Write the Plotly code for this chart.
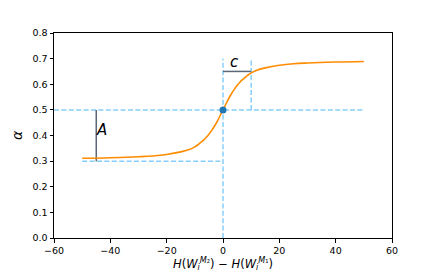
import plotly.graph_objects as go

# Curve values
x_vals = [-50, -40, -30, -25, -20, -15, -12, -10, -9, -8, -7, -6, -5, -4, -3, -2, -1, 0,
          1, 2, 3, 4, 5, 6, 7, 8, 9, 10, 12, 15, 20, 25, 30, 40, 50]
y_vals = [0.311, 0.313, 0.317, 0.320, 0.326, 0.336, 0.345, 0.356, 0.363, 0.372, 0.381, 0.392, 0.405, 0.420, 0.437, 0.456, 0.478, 0.5,
          0.522, 0.544, 0.563, 0.580, 0.595, 0.608, 0.619, 0.628, 0.637, 0.644, 0.655, 0.664, 0.674, 0.680, 0.683, 0.687, 0.689]

# Guide parameters
center_x, center_y = 0, 0.5
amp = 0.2
c_val = 10
a_x = -45
c_y = 0.65
x_min, x_max = -50, 50

x_ticks = [-60, -40, -20, 0, 20, 40, 60]
y_ticks = [0.0, 0.1, 0.2, 0.3, 0.4, 0.5, 0.6, 0.7, 0.8]
y_tick_text = ["0.0", "0.1", "0.2", "0.3", "0.4", "0.5", "0.6", "0.7", "0.8"]

dash_color = "#87CEFA"
dash_style = "5px,2.4px"
gray = "#5b6878"

fig = go.Figure()

def dline(xs, ys, color=dash_color, dash=dash_style, width=1.5):
    fig.add_trace(go.Scatter(x=xs, y=ys, mode="lines",
                             line=dict(color=color, width=width, dash=dash),
                             showlegend=False, hoverinfo="skip"))

dline([-60, x_max], [center_y, center_y])
dline([center_x, center_x], [0, center_y + amp])
dline([x_min, center_x], [center_y - amp, center_y - amp])
dline([center_x + c_val, center_x + c_val], [center_y, center_y + amp])

dline([a_x, a_x], [center_y - amp, center_y], color=gray, dash="solid", width=1.5)
dline([center_x, center_x + c_val], [c_y, c_y], color=gray, dash="solid", width=1.5)

fig.add_trace(go.Scatter(x=x_vals, y=y_vals, mode="lines",
                         line=dict(color="#ff8c00", width=1.6, shape="spline", smoothing=1.0),
                         showlegend=False))
fig.add_trace(go.Scatter(x=[center_x], y=[center_y], mode="markers",
                         marker=dict(color="#1f77b4", size=7),
                         showlegend=False))

fig.add_annotation(x=a_x + 1.9, y=0.42, text="<i>A</i>", showarrow=False,
                   font=dict(family="DejaVu Sans", size=15, color="black"))
fig.add_annotation(x=center_x + 4, y=0.688, text="<i>c</i>", showarrow=False,
                   font=dict(family="DejaVu Sans", size=15, color="black"))

axis_common = dict(showline=True, linecolor="black", linewidth=1, mirror=True,
                   ticks="outside", ticklen=3.5, tickwidth=0.8, tickcolor="black",
                   showgrid=False, zeroline=False, automargin=False,
                   tickfont=dict(family="DejaVu Sans", size=9.5, color="black"))

fig.update_layout(
    width=428, height=265,
    margin=dict(l=46, r=44, t=25, b=35),
    paper_bgcolor="white", plot_bgcolor="white",
    xaxis=dict(range=[-60, 60], tickvals=x_ticks,
               ticktext=[str(t).replace("-", "\u2212") for t in x_ticks],
               title=dict(text="<i>H</i>(<i>W</i><sub><i>i</i></sub><sup><i>M</i>\u2082</sup>) \u2212 <i>H</i>(<i>W</i><sub><i>i</i></sub><sup><i>M</i>\u2081</sup>)",
                          font=dict(family="DejaVu Sans", size=11.5, color="black"), standoff=0),
               **axis_common),
    yaxis=dict(range=[0, 0.8], tickvals=y_ticks, ticktext=y_tick_text,
               title=dict(text="<i>\u03b1</i>", font=dict(family="DejaVu Sans", size=14, color="black"), standoff=6),
               **axis_common),
)

fig.write_html("out.html")
